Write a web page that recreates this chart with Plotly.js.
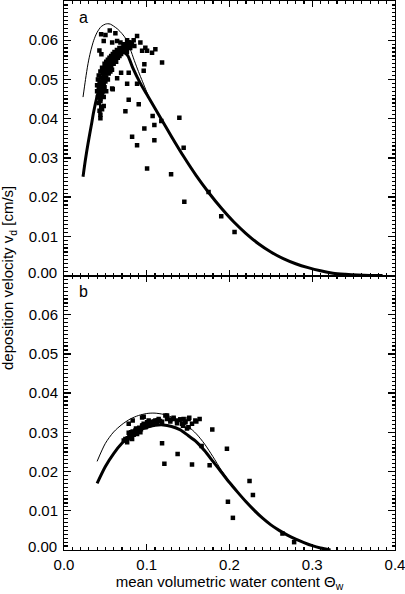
<!DOCTYPE html>
<html>
<head>
<meta charset="utf-8">
<script src="https://cdn.plot.ly/plotly-3.0.1.min.js"></script>
<style>html,body{margin:0;padding:0;background:#fff;}#chart{width:405px;height:594px;}</style>
</head>
<body>
<div id="chart"></div>
<script>
// ---- Panel a ----
var thickA_x = [0.023,0.026,0.029,0.033,0.036,0.040,0.044,0.050,0.056,0.062,0.067,0.072,0.077,0.083,0.0923,0.100,0.115,0.130,0.145,0.160,0.175,0.190,0.205,0.220,0.235,0.250,0.265,0.280,0.295,0.310,0.325,0.340,0.355,0.370,0.385];
var thickA_y = [0.0252,0.0297,0.0336,0.0383,0.0419,0.0457,0.0488,0.0522,0.0546,0.0561,0.0568,0.0570,0.0561,0.0530,0.0490,0.0462,0.0408,0.0354,0.0302,0.0254,0.0211,0.0172,0.0137,0.0107,0.0081,0.0060,0.0043,0.0030,0.0020,0.0012,0.0006,0.0003,0.0001,0.0,0.0];
var thinA_x = [0.023,0.026,0.029,0.032,0.036,0.040,0.045,0.050,0.0528,0.056,0.060,0.065,0.070,0.075,0.080,0.085,0.090,0.095,0.100,0.105,0.115,0.130,0.145,0.160,0.175,0.190,0.205,0.220,0.235,0.250,0.265,0.280,0.295,0.310,0.325,0.340,0.355,0.370,0.385];
var thinA_y = [0.0455,0.0500,0.0540,0.0570,0.0600,0.0620,0.0635,0.0641,0.0642,0.0641,0.0636,0.0628,0.0617,0.0603,0.0578,0.0548,0.0520,0.0494,0.0468,0.0443,0.0408,0.0354,0.0302,0.0254,0.0211,0.0172,0.0137,0.0107,0.0081,0.0060,0.0043,0.0030,0.0020,0.0012,0.0006,0.0003,0.0001,0.0,0.0];
var ptsA_x = [0.0883,0.0842,0.0923,0.0983,0.0944,0.1004,0.1064,0.1104,0.1185,0.0971,0.0963,0.0782,0.0690,0.0642,0.0763,0.0883,0.0589,0.0782,0.0903,0.0742,0.1071,0.1092,0.1176,0.1394,0.0971,0.0823,0.0883,0.1092,0.1446,0.1004,0.1294,0.1747,0.1454,0.1900,0.2061,
  0.0449,0.0501,0.0553,0.0621,0.0480,0.0582,0.0642,0.0682,0.0722,0.0763,0.0814,0.0428,0.0452,0.0582,
  0.040,0.040,0.041,0.041,0.042,0.042,0.042,0.043,0.043,0.043,0.044,0.044,0.044,0.044,0.045,0.045,0.045,0.046,0.046,0.046,0.047,0.047,0.047,0.048,0.048,0.048,0.049,0.049,0.049,0.050,0.050,0.050,0.051,0.051,0.051,0.052,0.052,0.053,0.053,0.053,0.054,0.054,0.055,0.055,0.056,0.056,0.057,0.057,0.058,0.058,0.059,0.059,0.060,0.060,0.061,0.062,0.062,0.063,0.064,0.064,0.065,0.066,0.067,0.067,0.068,0.069,0.070,0.071,0.072,0.073,0.074,0.075,0.076,0.077,0.078,0.080,0.082,0.085,
  0.044,0.046,0.048,0.044];
var ptsA_y = [0.0611,0.0600,0.0594,0.0581,0.0573,0.0573,0.0568,0.0577,0.0543,0.0539,0.0522,0.0517,0.0517,0.0503,0.0489,0.0489,0.0475,0.0448,0.0437,0.0419,0.0407,0.0384,0.0394,0.0402,0.0375,0.0354,0.0332,0.0345,0.0326,0.0273,0.0258,0.0213,0.0188,0.0151,0.0111,
  0.0615,0.0613,0.0625,0.0618,0.0598,0.0594,0.0598,0.0594,0.0590,0.0600,0.0594,0.0574,0.0564,0.0477,
  0.0485,0.0470,0.0455,0.0500,0.0440,0.0480,0.0510,0.0420,0.0465,0.0495,0.0410,0.0450,0.0475,0.0520,0.0430,0.0490,0.0505,0.0460,0.0480,0.0530,0.0470,0.0500,0.0515,0.0455,0.0490,0.0525,0.0480,0.0505,0.0540,0.0495,0.0515,0.0530,0.0470,0.0505,0.0545,0.0520,0.0535,0.0500,0.0525,0.0550,0.0515,0.0540,0.0530,0.0555,0.0520,0.0545,0.0535,0.0560,0.0550,0.0525,0.0545,0.0565,0.0540,0.0555,0.0570,0.0550,0.0560,0.0545,0.0565,0.0575,0.0555,0.0570,0.0560,0.0580,0.0575,0.0565,0.0580,0.0570,0.0585,0.0575,0.0590,0.0580,0.0570,0.0585,0.0595,0.0580,0.0590,0.0585,
  0.0401,0.0424,0.0432,0.0445];

// ---- Panel b ----
var thickB_x = [0.040,0.050,0.060,0.070,0.080,0.090,0.100,0.110,0.120,0.130,0.140,0.150,0.160,0.170,0.180,0.190,0.200,0.210,0.220,0.230,0.240,0.250,0.260,0.270,0.280,0.290,0.300,0.310,0.322];
var thickB_y = [0.0170,0.0213,0.0246,0.0272,0.0291,0.0305,0.0313,0.0318,0.0319,0.0315,0.0307,0.0292,0.0276,0.0253,0.0226,0.0199,0.0172,0.0147,0.0123,0.0101,0.0081,0.0064,0.0050,0.0038,0.0028,0.0019,0.0011,0.0005,0.0];
var thinB_x = [0.040,0.050,0.060,0.070,0.080,0.090,0.100,0.105,0.110,0.120,0.130,0.140,0.150,0.160,0.170,0.180,0.190,0.200,0.210,0.220,0.230,0.240,0.250,0.260,0.270,0.280,0.290,0.300,0.310,0.322];
var thinB_y = [0.0226,0.0272,0.0301,0.0320,0.0334,0.0343,0.0348,0.0349,0.0349,0.0346,0.0339,0.0328,0.0315,0.0296,0.0270,0.0238,0.0204,0.0174,0.0147,0.0123,0.0101,0.0081,0.0064,0.0050,0.0038,0.0028,0.0019,0.0011,0.0005,0.0];
var ptsB_x = [0.0830,0.0963,0.1185,0.1213,0.1373,0.1547,0.1639,0.1599,0.1792,0.1663,0.1760,0.1969,0.1981,0.2041,0.2242,0.2283,0.2640,0.2781,
  0.1245,0.1325,0.1406,0.1466,0.1514,0.1438,0.1506,0.1547,0.1366,0.1285,
  0.0782,0.0802,0.0823,0.0842,0.0863,0.0883,0.0903,0.0923,0.0944,0.0963,0.0983,0.1004,0.1023,0.1044,0.1064,0.1104,0.1124,0.1144,0.1185,0.1225,0.1245,0.1285,0.1325,0.1366,0.1406,0.1446,0.1466,0.1506,0.1426,0.1486,0.1587,0.0944,0.0782,0.0742,0.0763,0.0722,
  0.0770,0.0790,0.0810,0.0830,0.0850,0.0870,0.0890,0.0910,0.0930,0.0950,0.0970,0.0990,0.1010,0.1030,0.1050,0.1070,0.1090,0.1110,0.1130,0.1160];
var ptsB_y = [0.0330,0.0340,0.0272,0.0220,0.0245,0.0218,0.0334,0.0328,0.0307,0.0265,0.0216,0.0258,0.0123,0.0082,0.0176,0.0140,0.0042,0.0020,
  0.0343,0.0337,0.0333,0.0328,0.0337,0.0317,0.0313,0.0322,0.0323,0.0328,
  0.0299,0.0288,0.0283,0.0294,0.0305,0.0296,0.0309,0.0300,0.0317,0.0322,0.0313,0.0326,0.0330,0.0322,0.0327,0.0330,0.0324,0.0334,0.0327,0.0343,0.0334,0.0333,0.0334,0.0330,0.0333,0.0334,0.0326,0.0334,0.0322,0.0310,0.0330,0.0338,0.0322,0.0283,0.0275,0.0279,
  0.0285,0.0292,0.0300,0.0302,0.0298,0.0310,0.0303,0.0312,0.0308,0.0318,0.0320,0.0315,0.0322,0.0318,0.0326,0.0320,0.0328,0.0325,0.0331,0.0329];

var yTickVals = [0.01, 0.02, 0.03, 0.04, 0.05, 0.06];
var xTickVals = [0.0, 0.1, 0.2, 0.3, 0.4];

var FONT = 'Liberation Sans, Arial, Helvetica, sans-serif';
var X_RANGE = [0, 0.4];
var Y_RANGE = [0, 0.07];
var TICK_COLOR = '#000';

function lineTrace(x, y, w, ax, ay) {
  return {x: x, y: y, xaxis: ax, yaxis: ay, mode: 'lines', type: 'scatter',
          line: {color: '#000', width: w, shape: 'spline', smoothing: 0.8},
          hoverinfo: 'skip', showlegend: false};
}
function ptsTrace(x, y, ax, ay) {
  return {x: x, y: y, xaxis: ax, yaxis: ay, mode: 'markers', type: 'scatter',
          marker: {symbol: 'square', size: 4.5, color: '#000', line: {width: 0}},
          showlegend: false};
}

var data = [
  lineTrace(thinA_x, thinA_y, 1, 'x2', 'y2'),
  ptsTrace(ptsA_x, ptsA_y, 'x2', 'y2'),
  lineTrace(thickA_x, thickA_y, 3, 'x2', 'y2'),
  lineTrace(thinB_x, thinB_y, 1, 'x', 'y'),
  ptsTrace(ptsB_x, ptsB_y, 'x', 'y'),
  lineTrace(thickB_x, thickB_y, 3, 'x', 'y')
];

function xAxis(extra) {
  var a = {range: X_RANGE, ticks: 'inside', ticklen: 6, tickwidth: 1.4, tickcolor: TICK_COLOR,
    tickmode: 'array', tickvals: xTickVals, tickformat: '.1f', ticklabeloverflow: 'allow', ticklabelstandoff: 1,
    showline: true, linecolor: '#000', linewidth: 1, mirror: 'ticks', showgrid: false, zeroline: false,
    minor: {ticks: 'inside', ticklen: 3, tickwidth: 1.2, tickcolor: TICK_COLOR, tickmode: 'linear', tick0: 0, dtick: 0.01}};
  for (var k in extra) a[k] = extra[k];
  return a;
}
function yAxis(extra) {
  var a = {range: Y_RANGE, ticks: 'inside', ticklen: 7, tickwidth: 1.4, tickcolor: TICK_COLOR,
    tickmode: 'array', tickvals: yTickVals, tickformat: '.2f', ticklabelstandoff: 2,
    showline: true, linecolor: '#000', linewidth: 1, mirror: 'ticks', showgrid: false, zeroline: false,
    minor: {ticks: 'inside', ticklen: 3.5, tickwidth: 1.2, tickcolor: TICK_COLOR, tickmode: 'linear', tick0: 0, dtick: 0.001}};
  for (var k in extra) a[k] = extra[k];
  return a;
}

var layout = {
  width: 405, height: 594,
  margin: {l: 64, r: 10, t: 1, b: 44},
  paper_bgcolor: '#fff', plot_bgcolor: '#fff',
  font: {family: FONT, size: 15, color: '#000'},
  xaxis: xAxis({anchor: 'y', title: {text: 'mean volumetric water content \u0398<sub>w</sub>', font: {size: 15}, standoff: 3}}),
  xaxis2: xAxis({anchor: 'y2', matches: 'x', showticklabels: false}),
  yaxis: yAxis({domain: [0, 0.5], anchor: 'x'}),
  yaxis2: yAxis({domain: [0.5, 1], anchor: 'x2'}),
  annotations: [
    {text: 'deposition velocity v<sub>d</sub> [cm/s]', xref: 'paper', yref: 'paper', x: -0.167, y: 0.495,
     textangle: -90, showarrow: false, font: {size: 15}, xanchor: 'center', yanchor: 'middle'},
    {text: 'a', xref: 'paper', yref: 'paper', x: 0.058, y: 0.97, showarrow: false, font: {size: 16}, xanchor: 'center', yanchor: 'middle'},
    {text: 'b', xref: 'paper', yref: 'paper', x: 0.058, y: 0.47, showarrow: false, font: {size: 16}, xanchor: 'center', yanchor: 'middle'},
    {text: '0.00', xref: 'paper', yref: 'y2', x: 0, y: 0, xanchor: 'right', yanchor: 'middle', xshift: -5, yshift: 3, showarrow: false, font: {size: 15}},
    {text: '0.00', xref: 'paper', yref: 'y', x: 0, y: 0, xanchor: 'right', yanchor: 'middle', xshift: -5, yshift: 3.5, showarrow: false, font: {size: 15}}
  ]
};

Plotly.newPlot('chart', data, layout, {displayModeBar: false, staticPlot: true});
</script>
</body>
</html>
